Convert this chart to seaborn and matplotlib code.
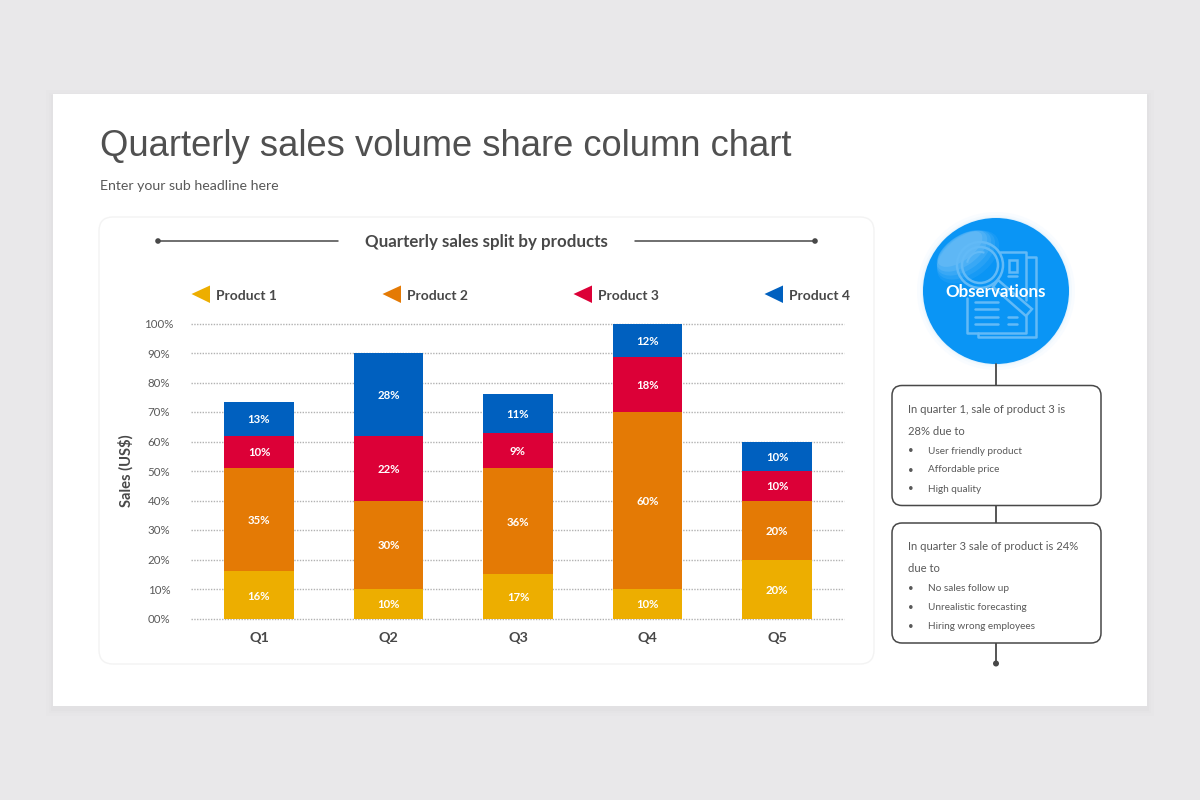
import pandas as pd
import matplotlib
matplotlib.use("Agg")
import matplotlib.pyplot as plt
from matplotlib.patches import Circle, Ellipse, FancyBboxPatch, Polygon, Rectangle, Arc
import seaborn as sns

quarters = ["Q1", "Q2", "Q3", "Q4", "Q5"]
products = ["Product 1", "Product 2", "Product 3", "Product 4"]
colors = ["#EDAE00", "#E47A05", "#DC0037", "#0060BF"]

# bar heights as drawn (they don't always agree with the printed labels)
product_1 = [16, 10, 15, 10, 20]
product_2 = [35, 30, 36, 60, 20]
product_3 = [11, 22, 12, 18.5, 10]
product_4 = [11.5, 28, 13, 11.5, 10]

labels_1 = ["16%", "10%", "17%", "10%", "20%"]
labels_2 = ["35%", "30%", "36%", "60%", "20%"]
labels_3 = ["10%", "22%", "9%", "18%", "10%"]
labels_4 = ["13%", "28%", "11%", "12%", "10%"]

y_ticks = [0, 10, 20, 30, 40, 50, 60, 70, 80, 90, 100]
y_tick_labels = ["00%", "10%", "20%", "30%", "40%", "50%", "60%", "70%", "80%", "90%", "100%"]

box_1_head = ["In quarter 1, sale of product 3 is", "28% due to"]
box_1_items = ["User friendly product", "Affordable price", "High quality"]
box_2_head = ["In quarter 3 sale of product is 24%", "due to"]
box_2_items = ["No sales follow up", "Unrealistic forecasting", "Hiring wrong employees"]

DARK = "#484848"
TEXT = "#595959"
W, H = 1200, 800

sns.set_theme(style="white")
plt.rcParams["font.family"] = ["Lato", "DejaVu Sans"]

fig = plt.figure(figsize=(12, 8), dpi=100, facecolor="#E9E8EA")

# page layer in pixel coordinates
bg = fig.add_axes([0, 0, 1, 1], zorder=0)
bg.set_xlim(0, W)
bg.set_ylim(H, 0)
bg.axis("off")

# slide with a soft shadow
for grow, shade in [(7, "#E7E6E8"), (4, "#E5E4E6"), (2, "#E2E1E3")]:
    bg.add_patch(Rectangle((53 - grow, 94 + 3 - grow), 1094 + 2 * grow, 612 + 2 * grow,
                           fc=shade, ec="none"))
bg.add_patch(Rectangle((53, 94), 1094, 612, fc="white", ec="none"))

bg.text(99.5, 147, "Quarterly sales volume share column chart", fontsize=26.2,
        family="Liberation Sans", color="#505050", va="center", ha="left")
bg.text(99.5, 185.5, "Enter your sub headline here", fontsize=10.2, color=TEXT, va="center", ha="left")

# chart card
bg.add_patch(FancyBboxPatch((111, 229), 751, 423, boxstyle="round,pad=12,rounding_size=14",
                            fc="white", ec="#F3F3F3", lw=1))

# chart title with its two rules
bg.text(486, 241.5, "Quarterly sales split by products", fontsize=12.2, fontweight="bold",
        color=DARK, va="center", ha="center")
bg.plot([158, 338], [241, 241], color=DARK, lw=1.1)
bg.plot([635, 815], [241, 241], color=DARK, lw=1.1)
bg.add_patch(Circle((158, 241), 2.8, fc=DARK, ec="none"))
bg.add_patch(Circle((815, 241), 2.8, fc=DARK, ec="none"))

# legend
for i, (name, col) in enumerate(zip(products, colors)):
    x0 = 191.5 + 191 * i
    bg.add_patch(Polygon([(x0, 294), (x0 + 18.5, 285.5), (x0 + 18.5, 303)], fc=col, ec="none"))
    bg.text(x0 + 24.5, 295.5, name, fontsize=10, fontweight="bold", color=DARK,
            va="center", ha="left")

# y axis title
bg.text(125.5, 471, "Sales (US$)", fontsize=10.6, fontweight="bold", color=DARK,
        rotation=90, va="center", ha="center")

# observations bubble
for grow, shade in [(6, "#F9FCFF"), (3, "#F2F9FE"), (1, "#E3F2FD")]:
    bg.add_patch(Circle((996, 291), 73 + grow, fc=shade, ec="none"))
disc = Circle((996, 291), 73, fc="#0A95F5", ec="none")
bg.add_patch(disc)
# glossy highlight, stacked so it fades away from the rim
for off, wid, hei, alpha in [(2, 70, 42, 0.07), (0, 66, 38, 0.09), (-2, 62, 34, 0.11),
                             (-4, 58, 30, 0.13), (-6, 52, 24, 0.14)]:
    shine = Ellipse((966 + off, 255 + off), wid, hei, angle=-35, fc="#CFE8FB", ec="none", alpha=alpha)
    bg.add_patch(shine)
    shine.set_clip_path(disc)

icon = "#62BAF7"
bg.add_patch(Circle((980, 265), 23, fc="none", ec=icon, lw=1.8))
bg.add_patch(Circle((980, 265), 18, fc="none", ec=icon, lw=1.8))
bg.add_patch(Arc((980, 265), 26, 26, theta1=190, theta2=290, ec=icon, lw=1.5))
bg.add_patch(Polygon([(998, 280), (1032, 309), (1026, 316), (993, 287)], fc="none", ec=icon, lw=1.8))
bg.plot([1000, 1026, 1026], [252, 252, 300], color=icon, lw=1.8)
bg.plot([1027, 1036, 1036, 978, 978], [257, 257, 337, 337, 333], color=icon, lw=1.8)
bg.plot([967, 967, 1026, 1026], [298, 333, 333, 316], color=icon, lw=1.8)
bg.add_patch(Rectangle((1009, 260), 8, 12, fc="none", ec=icon, lw=1.8))
bg.plot([1008, 1017], [276, 276], color=icon, lw=1.8)
for yy in [302, 309, 317, 324]:
    bg.plot([975, 998], [yy, yy], color=icon, lw=1.8)
for yy in [317, 324]:
    bg.plot([1008, 1017], [yy, yy], color=icon, lw=1.8)
bg.text(996, 292, "Observations", fontsize=12.2, fontweight="bold", color="white",
        va="center", ha="center")

# connector and note boxes
bg.plot([996, 996], [364, 663], color=DARK, lw=1.3, zorder=1)
bg.add_patch(Circle((996, 663.5), 3, fc=DARK, ec="none", zorder=2))


def note_box(top, head, items):
    bg.add_patch(FancyBboxPatch((892 + 10, top + 10), 209 - 20, 120 - 20,
                                boxstyle="round,pad=10,rounding_size=10",
                                fc="white", ec=DARK, lw=1.1, zorder=3))
    for i, line in enumerate(head):
        bg.text(907.5, top + 24 + 22 * i, line, fontsize=8.1, color=TEXT,
                va="center", ha="left", zorder=4)
    for i, line in enumerate(items):
        y = top + 65.5 + 19 * i
        bg.text(908, y, "\u2022", fontsize=7, color=TEXT, va="center", ha="left", zorder=4)
        bg.text(927.5, y, line, fontsize=7.2, color=TEXT, va="center", ha="left", zorder=4)


note_box(385.5, box_1_head, box_1_items)
note_box(523, box_2_head, box_2_items)

# chart axes placed so the plot area sits at px 191-844 / 323.5-618.5
ax = fig.add_axes([191 / W, 1 - 618.5 / H, 653 / W, 295 / H], zorder=1)
ax.patch.set_alpha(0)

heights = [product_1, product_2, product_3, product_4]
bar_labels = [labels_1, labels_2, labels_3, labels_4]
base = [0] * len(quarters)
for name, col, vals, txts in zip(products, colors, heights, bar_labels):
    df = pd.DataFrame({"Quarter": quarters, "Share": vals})
    n_before = len(ax.patches)
    sns.barplot(data=df, x="Quarter", y="Share", color=col, saturation=1, width=0.54,
                bottom=base, linewidth=0, edgecolor="none", ax=ax, zorder=3)
    for p, txt in zip(ax.patches[n_before:], txts):
        ax.annotate(txt, (p.get_x() + p.get_width() / 2, p.get_y() + p.get_height() / 2),
                    xytext=(0, -0.8), textcoords="offset points",
                    ha="center", va="center", color="white", fontsize=8.2, fontweight="bold", zorder=4)
    base = [b + v for b, v in zip(base, vals)]

ax.set_xlim((191 - 259) / 129.5, (844 - 259) / 129.5)
ax.set_ylim(0, 100)
ax.set_yticks(y_ticks)
ax.set_yticklabels(y_tick_labels, fontsize=8.3, color=TEXT, ha="center")
ax.yaxis.grid(True, linestyle=(0, (1, 1)), color="#B2B2B2", linewidth=1, zorder=0)
ax.set_axisbelow(True)
ax.tick_params(axis="y", length=0, pad=23)
ax.tick_params(axis="x", length=0, pad=10)
for lab in ax.get_xticklabels():
    lab.set_fontsize(10.4)
    lab.set_fontweight("bold")
    lab.set_color(DARK)
ax.set_xlabel("")
ax.set_ylabel("")
for spine in ax.spines.values():
    spine.set_visible(False)
for line in ax.get_ygridlines():
    line.set_clip_on(False)

fig.savefig("out.png", dpi=100, facecolor=fig.get_facecolor())
